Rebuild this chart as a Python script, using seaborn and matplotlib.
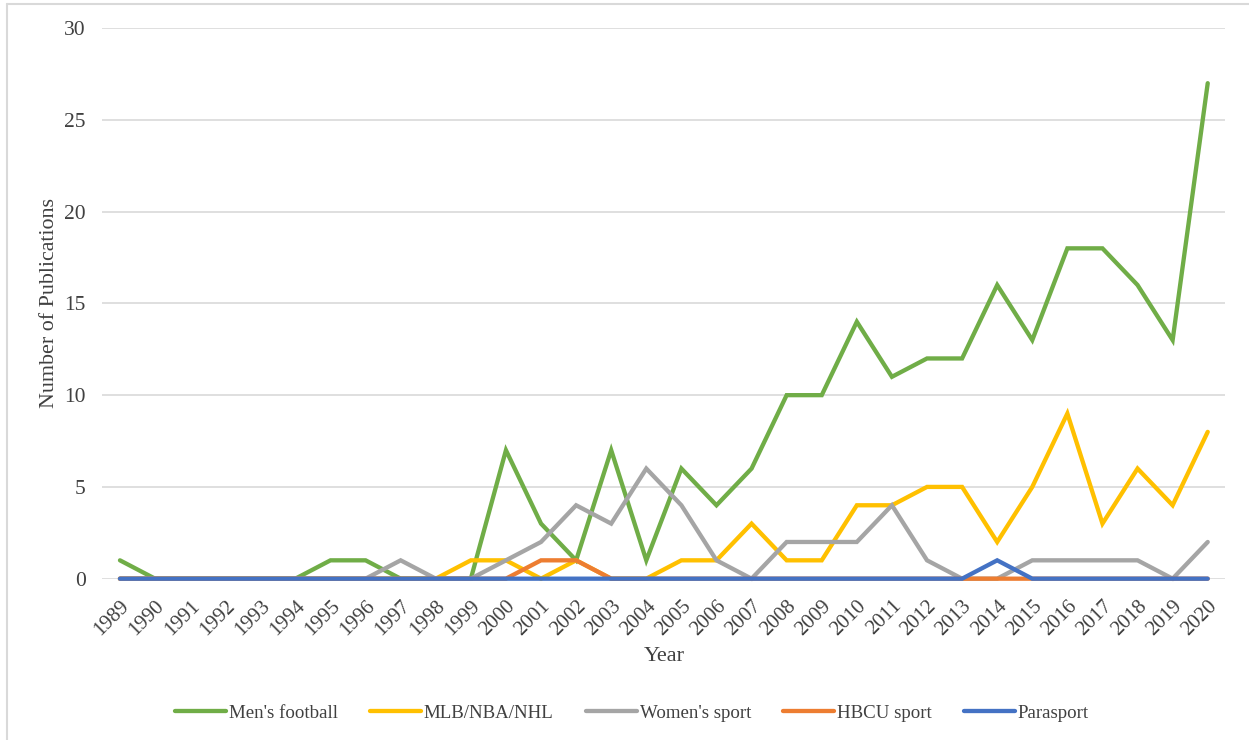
import numpy as np
import pandas as pd
import seaborn as sns
import matplotlib.pyplot as plt
from matplotlib.lines import Line2D

sns.set_theme(style="whitegrid")
plt.rcParams['font.family'] = ['Liberation Serif', 'DejaVu Serif']

years = list(range(1989, 2021))
mens_football = [1, 0, 0, 0, 0, 0, 1, 1, 0, 0, 0, 7, 3, 1, 7, 1, 6, 4, 6, 10, 10, 14, 11, 12, 12, 16, 13, 18, 18, 16, 13, 27]
mlb_nba_nhl = [0, 0, 0, 0, 0, 0, 0, 0, 0, 0, 1, 1, 0, 1, 0, 0, 1, 1, 3, 1, 1, 4, 4, 5, 5, 2, 5, 9, 3, 6, 4, 8]
womens_sport = [0, 0, 0, 0, 0, 0, 0, 0, 1, 0, 0, 1, 2, 4, 3, 6, 4, 1, 0, 2, 2, 2, 4, 1, 0, 0, 1, 1, 1, 1, 0, 2]
hbcu_sport = [0, 0, 0, 0, 0, 0, 0, 0, 0, 0, 0, 0, 1, 1, 0, 0, 0, 0, 0, 0, 0, 0, 0, 0, 0, 0, 0, 0, 0, 0, 0, 0]
parasport = [0, 0, 0, 0, 0, 0, 0, 0, 0, 0, 0, 0, 0, 0, 0, 0, 0, 0, 0, 0, 0, 0, 0, 0, 0, 1, 0, 0, 0, 0, 0, 0]

series = {
    "Men's football": (mens_football, "#70AD47"),
    "MLB/NBA/NHL": (mlb_nba_nhl, "#FFC000"),
    "Women's sport": (womens_sport, "#A5A5A5"),
    "HBCU sport": (hbcu_sport, "#ED7D31"),
    "Parasport": (parasport, "#4472C4"),
}
text_col = "#404040"

fig = plt.figure(figsize=(12.49, 7.4), dpi=100)
ax = fig.add_axes([0.082, 0.218, 0.899, 0.744])

for name, (vals, col) in series.items():
    df = pd.DataFrame({"year": years, "count": vals})
    sns.lineplot(data=df, x="year", y="count", color=col, linewidth=3.1,
                 label=name, ax=ax, solid_capstyle="round", solid_joinstyle="miter",
                 clip_on=False)

ax.set_xlim(1988.5, 2020.5)
ax.set_ylim(0, 30)
ax.set_yticks(range(0, 31, 5))
ax.set_xticks(years)
ax.set_xticklabels([str(y) for y in years], rotation=45, ha="right",
                   rotation_mode="anchor", fontsize=15, color=text_col)
ax.tick_params(axis="y", labelsize=15.5, labelcolor=text_col, pad=6)
ax.tick_params(axis="x", pad=7)
ax.grid(axis="x", visible=False)
ax.grid(axis="y", color="#D9D9D9", linewidth=1.2)
for s in ax.spines.values():
    s.set_visible(False)

ax.set_xlabel("Year", fontsize=16, color=text_col, labelpad=5)
ax.set_ylabel("Number of Publications", fontsize=15.8, color=text_col, labelpad=4)

ax.legend(loc="upper center", bbox_to_anchor=(0.4715, -0.198), ncol=5, frameon=False,
          fontsize=13.6, handlelength=2.7, columnspacing=1.7, handletextpad=0.15,
          labelcolor=text_col)

# chart frame: only left and top edges are visible
fig.add_artist(Line2D([0.006, 0.006], [0, 0.995], transform=fig.transFigure,
                      color="#D9D9D9", linewidth=1.5))
fig.add_artist(Line2D([0.006, 1], [0.995, 0.995], transform=fig.transFigure,
                      color="#D9D9D9", linewidth=1.5))

fig.savefig("out.png", dpi=100)
